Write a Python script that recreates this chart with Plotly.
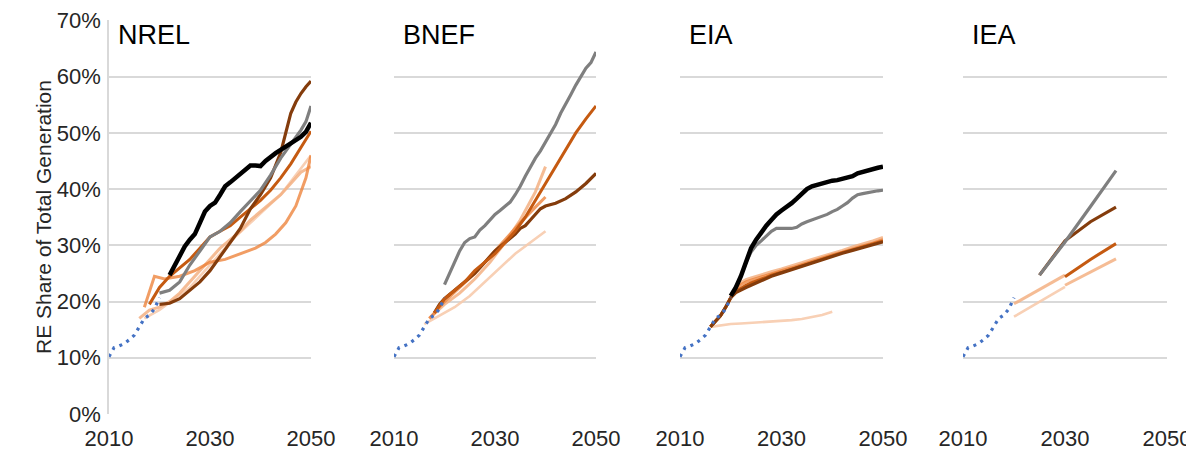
import plotly.graph_objects as go

# ---------------- data ----------------
panel_titles = ["NREL", "BNEF", "EIA", "IEA"]
x_ticks = [2010, 2030, 2050]
y_ticks = [0, 10, 20, 30, 40, 50, 60, 70]
y_tick_labels = ["0%", "10%", "20%", "30%", "40%", "50%", "60%", "70%"]
y_title = "RE Share of Total Generation"

hist_years = [2010, 2011, 2012, 2013, 2014, 2015, 2016, 2017, 2018, 2019, 2020]
hist_share = [10.2, 11.8, 12.1, 12.5, 13.2, 14.0, 15.5, 17.0, 17.6, 18.7, 20.7]

# NREL
nrel_black_years = list(range(2022, 2051))
nrel_black = [24.7, 26.5, 28.0, 29.8, 31.0, 32.0, 34.0, 36.0, 37.0, 37.6, 39.0, 40.5, 41.2, 42.0,
              42.8, 43.5, 44.2, 44.2, 44.1, 45.0, 45.8, 46.4, 47.0, 47.6, 48.3, 48.8, 49.3, 50.2, 51.8]
nrel_gray_years = [2020, 2022, 2024, 2026, 2028, 2030, 2032, 2034, 2036, 2038, 2040, 2042, 2044, 2046, 2048, 2049, 2050]
nrel_gray = [21.5, 22.0, 23.5, 26.5, 29.0, 31.5, 32.5, 34.0, 36.0, 38.0, 39.8, 42.5, 45.5, 48.0, 50.5, 52.0, 54.8]
nrel_dark_years = [2020, 2022, 2024, 2026, 2028, 2030, 2032, 2034, 2036, 2038, 2040, 2042, 2044, 2045, 2046, 2047, 2048, 2049, 2050]
nrel_dark = [19.5, 19.7, 20.5, 22.0, 23.5, 25.5, 28.0, 30.5, 33.0, 36.5, 39.0, 42.0, 46.5, 50.0, 53.5, 55.5, 57.0, 58.2, 59.2]
nrel_med_years = [2018, 2020, 2022, 2024, 2026, 2028, 2030, 2032, 2034, 2036, 2038, 2040, 2042, 2044, 2046, 2048, 2050]
nrel_med = [19.5, 22.5, 24.5, 26.0, 27.5, 29.5, 31.5, 32.5, 33.5, 35.0, 36.5, 38.0, 39.8, 42.0, 44.5, 47.5, 50.3]
nrel_orange_years = [2017, 2019, 2021, 2024, 2027, 2030, 2033, 2036, 2039, 2041, 2043, 2045, 2047, 2049, 2050]
nrel_orange = [19.0, 24.5, 24.0, 24.5, 25.5, 27.0, 27.5, 28.5, 29.5, 30.5, 32.0, 34.0, 37.0, 42.0, 46.0]
nrel_light_years = [2016, 2018, 2020, 2022, 2024, 2026, 2028, 2030, 2032, 2034, 2036, 2038, 2040, 2042, 2044, 2046, 2048, 2050]
nrel_light = [17.0, 18.5, 19.0, 20.0, 21.5, 23.5, 25.5, 27.5, 29.5, 31.0, 32.5, 34.5, 36.0, 37.5, 39.0, 41.0, 43.0, 44.0]
nrel_pale_years = [2017, 2020, 2023, 2026, 2029, 2032, 2035, 2038, 2041, 2044, 2047, 2050]
nrel_pale = [17.0, 18.5, 20.5, 22.5, 25.5, 28.5, 31.5, 34.0, 36.5, 39.0, 42.5, 46.0]

# BNEF
bnef_gray_years = list(range(2020, 2051))
bnef_gray = [23.0, 25.0, 27.0, 29.0, 30.5, 31.2, 31.5, 32.7, 33.5, 34.5, 35.5, 36.2, 37.0, 37.7, 39.0, 40.5,
             42.3, 44.0, 45.5, 46.8, 48.3, 50.0, 51.5, 53.5, 55.3, 56.8, 58.5, 60.0, 61.5, 62.5, 64.4]
bnef_med_years = [2018, 2020, 2022, 2024, 2026, 2028, 2030, 2032, 2034, 2036, 2038, 2040, 2042, 2044, 2046, 2048, 2050]
bnef_med = [18.0, 20.5, 22.0, 23.5, 25.5, 27.0, 28.5, 30.5, 32.5, 35.0, 38.0, 41.0, 44.0, 47.0, 50.0, 52.5, 54.8]
bnef_dark_years = [2018, 2019, 2020, 2022, 2024, 2026, 2028, 2030, 2032, 2034, 2035, 2036, 2037, 2038, 2039, 2040, 2042, 2044, 2046, 2048, 2050]
bnef_dark = [18.0, 19.5, 20.5, 22.0, 23.5, 25.0, 27.0, 29.0, 30.5, 32.0, 33.0, 33.5, 34.5, 35.5, 36.5, 37.0, 37.5, 38.3, 39.5, 41.0, 42.8]
bnef_orange_years = [2017, 2020, 2023, 2026, 2029, 2032, 2035, 2038, 2040]
bnef_orange = [17.0, 20.0, 22.5, 25.0, 28.0, 31.0, 34.0, 36.8, 38.6]
bnef_light_years = [2017, 2020, 2023, 2026, 2029, 2032, 2035, 2038, 2040]
bnef_light = [17.0, 19.5, 21.5, 24.0, 27.0, 30.5, 34.5, 39.5, 44.0]
bnef_pale_years = [2016, 2019, 2022, 2025, 2028, 2031, 2034, 2037, 2040]
bnef_pale = [16.0, 17.5, 19.0, 21.0, 23.5, 26.0, 28.5, 30.5, 32.5]

# EIA
eia_black_years = list(range(2020, 2051))
eia_black = [21.0, 22.5, 24.5, 27.0, 29.5, 31.0, 32.3, 33.5, 34.5, 35.5, 36.2, 36.8, 37.5, 38.3, 39.2, 40.0,
             40.5, 40.8, 41.0, 41.3, 41.5, 41.6, 41.8, 41.9, 42.3, 42.8, 43.1, 43.3, 43.5, 43.8, 44.0]
eia_gray_years = list(range(2020, 2051))
eia_gray = [21.0, 22.5, 24.5, 27.0, 28.8, 30.0, 30.8, 31.7, 32.5, 33.0, 33.0, 33.0, 33.0, 33.2, 33.8, 34.2,
            34.5, 34.8, 35.2, 35.5, 36.0, 36.4, 37.0, 37.6, 38.4, 39.0, 39.2, 39.4, 39.6, 39.7, 39.8]
eia_band_years = [2016, 2017, 2018, 2019, 2020, 2021, 2022, 2023, 2024, 2025, 2026, 2027, 2028, 2030,
                  2032, 2034, 2036, 2038, 2040, 2042, 2044, 2046, 2048, 2050]
eia_light = [15.5, 16.5, 17.5, 19.0, 20.7, 22.5, 23.4, 23.9, 24.2, 24.5, 24.8, 25.0, 25.3, 25.8,
             26.3, 26.9, 27.5, 28.0, 28.6, 29.1, 29.7, 30.2, 30.8, 31.4]
eia_orange = [15.5, 16.5, 17.5, 19.0, 20.7, 22.2, 23.0, 23.5, 23.8, 24.1, 24.4, 24.7, 25.0, 25.5,
              26.0, 26.6, 27.2, 27.7, 28.3, 28.8, 29.4, 29.9, 30.4, 31.0]
eia_med = [15.5, 16.5, 17.5, 19.0, 20.7, 21.8, 22.4, 22.9, 23.3, 23.7, 24.0, 24.3, 24.7, 25.2,
           25.8, 26.4, 27.0, 27.6, 28.2, 28.7, 29.2, 29.7, 30.2, 30.8]
eia_dark = [15.5, 16.5, 17.5, 19.0, 20.7, 21.6, 22.1, 22.5, 22.9, 23.3, 23.7, 24.1, 24.5, 25.1,
            25.7, 26.3, 26.9, 27.5, 28.1, 28.6, 29.1, 29.6, 30.1, 30.6]
eia_pale_years = [2016, 2018, 2020, 2022, 2024, 2026, 2028, 2030, 2032, 2034, 2036, 2038, 2040]
eia_pale = [15.5, 15.8, 16.0, 16.1, 16.2, 16.3, 16.4, 16.5, 16.7, 16.9, 17.2, 17.6, 18.2]

# IEA
iea_gray_years = [2025, 2030, 2035, 2040]
iea_gray = [24.7, 30.6, 36.9, 43.3]
iea_dark_years = [2025, 2030, 2035, 2040]
iea_dark = [24.7, 30.8, 34.2, 36.8]
iea_med_years = [2030, 2035, 2040]
iea_med = [24.4, 27.5, 30.3]
iea_orange_years = [2030, 2035, 2040]
iea_orange = [22.9, 25.3, 27.6]
iea_light_years = [2020, 2025, 2030]
iea_light = [19.6, 22.2, 24.7]
iea_pale_years = [2020, 2025, 2030]
iea_pale = [17.3, 20.0, 22.6]

# ---------------- styles ----------------
STYLE = {
    "black": dict(color="#000000", width=4.5, opacity=1.0),
    "gray": dict(color="#7F7F7F", width=3.2, opacity=1.0),
    "dark": dict(color="#843C0C", width=3.2, opacity=1.0),
    "med": dict(color="#C55A11", width=3.0, opacity=1.0),
    "orange": dict(color="#ED7D31", width=3.0, opacity=0.75),
    "light": dict(color="#F4B183", width=3.0, opacity=0.85),
    "pale": dict(color="#F8CBAD", width=2.6, opacity=0.9),
}

panels = [
    [("pale", nrel_pale_years, nrel_pale), ("light", nrel_light_years, nrel_light),
     ("orange", nrel_orange_years, nrel_orange), ("med", nrel_med_years, nrel_med),
     ("dark", nrel_dark_years, nrel_dark), ("gray", nrel_gray_years, nrel_gray),
     ("black", nrel_black_years, nrel_black)],
    [("pale", bnef_pale_years, bnef_pale), ("light", bnef_light_years, bnef_light),
     ("orange", bnef_orange_years, bnef_orange), ("dark", bnef_dark_years, bnef_dark),
     ("med", bnef_med_years, bnef_med), ("gray", bnef_gray_years, bnef_gray)],
    [("pale", eia_pale_years, eia_pale), ("light", eia_band_years, eia_light),
     ("orange", eia_band_years, eia_orange), ("med", eia_band_years, eia_med),
     ("dark", eia_band_years, eia_dark), ("gray", eia_gray_years, eia_gray),
     ("black", eia_black_years, eia_black)],
    [("pale", iea_pale_years, iea_pale), ("light", iea_light_years, iea_light),
     ("light", iea_orange_years, iea_orange), ("med", iea_med_years, iea_med),
     ("dark", iea_dark_years, iea_dark), ("gray", iea_gray_years, iea_gray)],
]

# page body has an 8px margin, so the figure is laid out 8px up/left of the target pixels
OFF = 8
W, H = 1194 - OFF, 451 - OFF
panel_px = [(109, 311), (394, 596), (680, 883), (963, 1167)]

fig = go.Figure()
FONT = "Liberation Sans, Arial, sans-serif"

for i, series in enumerate(panels):
    n = "" if i == 0 else str(i + 1)
    xa, ya = "x" + n, "y" + n
    for role, yrs, vals in series:
        st = STYLE[role]
        fig.add_trace(go.Scatter(x=yrs, y=vals, mode="lines", xaxis=xa, yaxis=ya,
                                 line=dict(color=st["color"], width=st["width"]),
                                 opacity=st["opacity"], showlegend=False, hoverinfo="skip"))
    fig.add_trace(go.Scatter(x=hist_years, y=hist_share, mode="lines", xaxis=xa, yaxis=ya,
                             line=dict(color="#4472C4", width=3.2, dash="3px,5px"),
                             showlegend=False, hoverinfo="skip"))
    x0, x1 = panel_px[i]
    fig.layout["xaxis" + n] = dict(domain=[(x0 - OFF) / W, (x1 - OFF) / W], range=[2010, 2050],
                                   tickmode="array", tickvals=x_ticks,
                                   ticktext=[str(t) for t in x_ticks],
                                   showgrid=False, zeroline=False, automargin=False,
                                   showline=False, ticks="", ticklabelstandoff=9,
                                   tickfont=dict(family=FONT, size=22, color="#262626"),
                                   anchor=ya, fixedrange=True)
    fig.layout["yaxis" + n] = dict(domain=[0, 1], range=[0, 70.08], tickmode="array",
                                   tickvals=y_ticks, ticktext=y_tick_labels,
                                   showticklabels=(i == 0), automargin=False,
                                   showgrid=True, gridcolor="#D9D9D9", gridwidth=1.5,
                                   zeroline=False, showline=(i == 0), linecolor="#D9D9D9",
                                   linewidth=1.5, ticks="", ticklabelstandoff=2,
                                   tickfont=dict(family=FONT, size=22, color="#262626"),
                                   anchor=xa, fixedrange=True)
    fig.add_annotation(text=panel_titles[i], xref=xa, yref=ya, x=2011.4, y=67.5,
                       xanchor="left", yanchor="middle", showarrow=False,
                       font=dict(family=FONT, size=27, color="#000000"))

fig.add_annotation(text=y_title, xref="paper", yref="paper", x=(43 - OFF) / W, y=0.5,
                   xanchor="center", yanchor="middle", textangle=-90, showarrow=False,
                   font=dict(family=FONT, size=21, color="#262626"))

fig.update_layout(width=W, height=H,
                  margin=dict(l=0, r=0, t=20 - OFF, b=451 - 414, autoexpand=False),
                  plot_bgcolor="white", paper_bgcolor="white")

fig.write_html("out.html")
